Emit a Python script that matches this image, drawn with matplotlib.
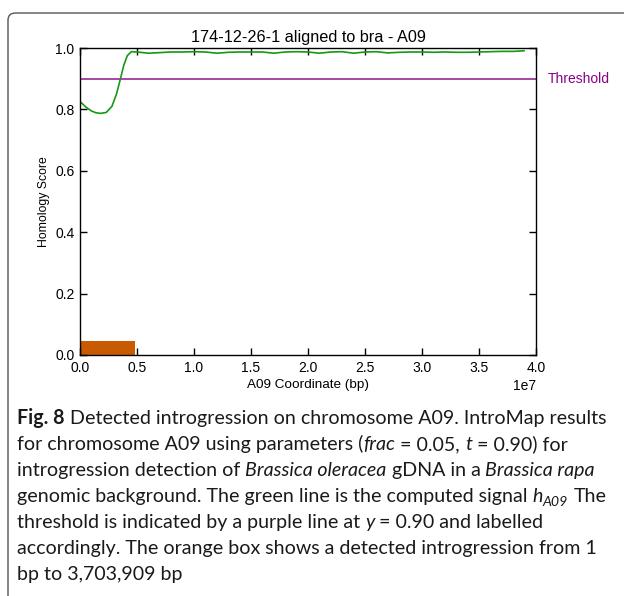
import matplotlib
matplotlib.use("Agg")
import matplotlib.pyplot as plt
from matplotlib.patches import FancyBboxPatch
from matplotlib.font_manager import FontProperties
import matplotlib.transforms as mtransforms

# ---- data ----
title = "174-12-26-1 aligned to bra - A09"
xlabel = "A09 Coordinate (bp)"
ylabel = "Homology Score"
threshold = 0.90
threshold_label = "Threshold"

signal_x = [0.0, 0.5e6, 1.0e6, 1.4e6, 1.8e6, 2.3e6, 2.8e6, 3.2e6, 3.55e6, 3.85e6,
            4.15e6, 4.5e6, 5.0e6, 6.0e6, 7.0e6, 8.0e6, 9.0e6, 10.0e6, 11.0e6,
            12.0e6, 13.0e6, 14.0e6, 15.0e6, 16.0e6, 17.0e6, 18.0e6, 19.0e6,
            20.0e6, 21.0e6, 22.0e6, 23.0e6, 24.0e6, 25.0e6, 26.0e6, 27.0e6,
            28.0e6, 29.0e6, 30.0e6, 31.0e6, 32.0e6, 33.0e6, 34.0e6, 35.0e6,
            36.0e6, 37.0e6, 38.0e6, 38.95e6]
signal_y = [0.826, 0.808, 0.795, 0.789, 0.787, 0.790, 0.810, 0.850, 0.900, 0.945,
            0.975, 0.988, 0.987, 0.983, 0.985, 0.987, 0.987, 0.988, 0.987,
            0.983, 0.986, 0.987, 0.987, 0.987, 0.983, 0.987, 0.988,
            0.987, 0.983, 0.987, 0.988, 0.983, 0.987, 0.988, 0.984,
            0.986, 0.987, 0.987, 0.986, 0.987, 0.986, 0.986, 0.987,
            0.988, 0.989, 0.989, 0.991]

intro_start = 1
intro_end = 4.83e6
intro_height = 0.046

xticks = [0, 0.5e7, 1.0e7, 1.5e7, 2.0e7, 2.5e7, 3.0e7, 3.5e7, 4.0e7]
yticks = [0.0, 0.2, 0.4, 0.6, 0.8, 1.0]

caption_lines = [
    [("Fig. 8", "bold"), (" Detected introgression on chromosome A09. IntroMap results", "normal")],
    [("for chromosome A09 using parameters (", "normal"), ("frac", "italic"),
     (" = 0.05, ", "normal"), ("t", "italic"), (" = 0.90) for", "normal")],
    [("introgression detection of ", "normal"), ("Brassica oleracea", "italic"),
     (" gDNA in a ", "normal"), ("Brassica rapa", "italic")],
    [("genomic background. The green line is the computed signal ", "normal"),
     ("h", "italic"), ("A09", "sub"), (" The", "normal")],
    [("threshold is indicated by a purple line at ", "normal"), ("y", "italic"),
     (" = 0.90 and labelled", "normal")],
    [("accordingly. The orange box shows a detected introgression from 1", "normal")],
    [("bp to 3,703,909 bp", "normal")],
]

W, H = 624, 596
plt.rcParams['font.family'] = ['Liberation Sans', 'DejaVu Sans']
fig = plt.figure(figsize=(W / 100, H / 100), dpi=100)

# outer rounded frame
frame = FancyBboxPatch((8 / W, -0.2), 1.2, 1 - 13 / H + 0.2,
                       boxstyle="round,pad=0,rounding_size=0.012",
                       transform=fig.transFigure, facecolor='none',
                       edgecolor='#555555', linewidth=1.0)
fig.patches.append(frame)

ax = fig.add_axes([80 / W, 1 - 355 / H, (536 - 80) / W, (355 - 48) / H])
ax.plot(signal_x, signal_y, color='#139a13', linewidth=1.2)
ax.axhline(threshold, color='#9b3a9b', linewidth=1.3)
ax.bar([intro_start], [intro_height], width=intro_end - intro_start, align='edge',
       color='#c85a00', linewidth=0)
ax.set_xlim(0, 4.0e7)
ax.set_ylim(0, 1.0)
ax.set_xticks(xticks)
ax.set_yticks(yticks)
ax.yaxis.set_major_formatter(matplotlib.ticker.FormatStrFormatter('%.1f'))
ax.tick_params(direction='in', top=True, right=True, length=5, width=1,
               labelsize=10, pad=4)
ax.xaxis.get_offset_text().set_fontsize(10)
for s in ax.spines.values():
    s.set_linewidth(1.0)
ax.set_title(title, fontsize=11.7, pad=4)
ax.set_xlabel(xlabel, fontsize=9.7, labelpad=3)
ax.set_ylabel(ylabel, fontsize=8.8, labelpad=4)
ax.text(1.025, threshold, threshold_label,
        transform=mtransforms.blended_transform_factory(ax.transAxes, ax.transData),
        color='#8b008b', fontsize=10, va='center', ha='left')

# ---- caption ----
renderer = fig.canvas.get_renderer()
cap_font = 'Lato'
base_size = 14.0

def props(style, size):
    if style == 'bold':
        return FontProperties(family=cap_font, weight='bold', size=size)
    if style in ('italic', 'sub'):
        return FontProperties(family=cap_font, style='italic',
                              size=size * (0.72 if style == 'sub' else 1))
    return FontProperties(family=cap_font, size=size)

def adv(s, fp):
    w1, _, _ = renderer.get_text_width_height_descent("|" + s + "|", fp, ismath=False)
    w0, _, _ = renderer.get_text_width_height_descent("||", fp, ismath=False)
    return w1 - w0

def line_width(line, size):
    return sum(adv(s, props(st, size)) for s, st in line)

# fit the first caption line to the width seen in the reference (17px .. 608px)
cap_size = base_size * 591.0 / line_width(caption_lines[0], base_size)

x0 = 17
y_first = 424
dy = 26
for i, line in enumerate(caption_lines):
    x = x0
    yb = y_first + i * dy
    for s, style in line:
        fp = props(style, cap_size)
        sp = adv(" ", fp)
        lead = len(s) - len(s.lstrip(" "))
        stripped = s.strip(" ")
        off = 4 if style == 'sub' else 0
        fig.text((x + lead * sp) / W, 1 - (yb + off) / H, stripped,
                 fontproperties=fp, ha='left', va='baseline', color='#1a1a1a')
        x += adv(s, fp)

fig.savefig("out.png", dpi=100)
